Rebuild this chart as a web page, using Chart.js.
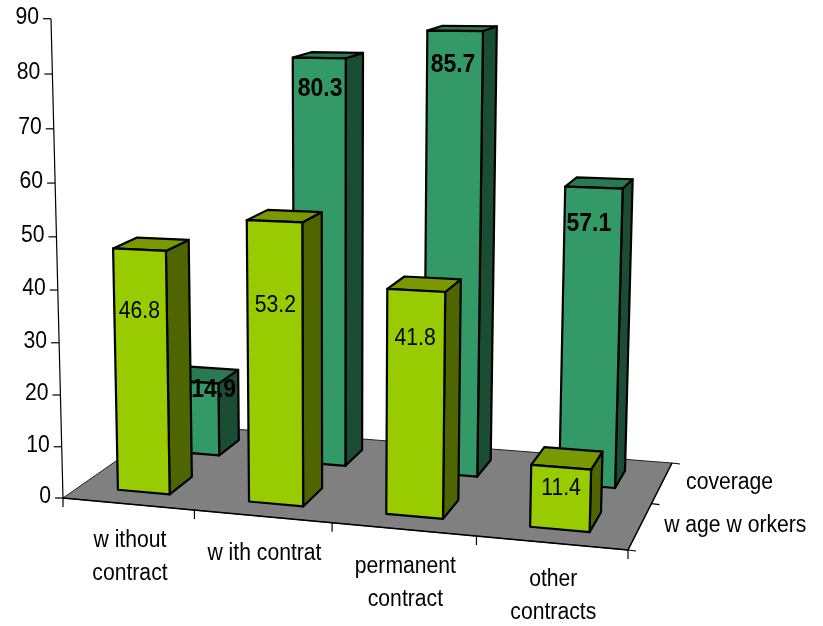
<!DOCTYPE html>
<html>
<head>
<meta charset="utf-8">
<style>
  html, body { margin: 0; padding: 0; background: #fff; }
  canvas { display: block; }
</style>
</head>
<body>
<canvas id="contractChart" width="823" height="626"></canvas>
<script src="https://cdn.jsdelivr.net/npm/chart.js@4/dist/chart.umd.min.js"></script>
<script>
const categories = [["w ithout", "contract"], ["w ith contrat"], ["permanent", "contract"], ["other", "contracts"]];
const seriesNames = ["w age w orkers", "coverage"];
const wageWorkers = [46.8, 53.2, 41.8, 11.4];
const coverage = [14.9, 80.3, 85.7, 57.1];

// floor corners on screen, front left first, then anticlockwise
const FLOOR = [[63, 498], [628, 550], [672, 463], [169, 424]];
const AXIS_TOP = [51, 18.7];
const LEAN = -0.042; // how much the top of the box comes towards the camera
const ROW_CENTRE = [0.25, 0.75];
const ROW_DEPTH = 0.108;
const FONT = "Liberation Sans, Arial, sans-serif";
const TEXT_SQUEEZE = 0.92; // reference text is taller than it is wide
const FACES = [
  { front: "#99cc00", side: "#4f6600", top: "#7a9900" },
  { front: "#339966", side: "#1a4d33", top: "#297a52" }
];
// how far below the bar top the value sits, and sideways nudge
const LABEL_DROP = [[62, 84, 48, 21], [8, 31, 34, 37]];
const LABEL_SHIFT = [[0, 1, -1, 0], [20, 1, -2, -5]];

function make_projection() {
  const [p0, p1, p2, p3] = FLOOR;
  const dx1 = p1[0] - p2[0], dx2 = p3[0] - p2[0], sx = p0[0] - p1[0] + p2[0] - p3[0];
  const dy1 = p1[1] - p2[1], dy2 = p3[1] - p2[1], sy = p0[1] - p1[1] + p2[1] - p3[1];
  const den = dx1 * dy2 - dx2 * dy1;
  const g = (sx * dy2 - dx2 * sy) / den;
  const h = (dx1 * sy - sx * dy1) / den;
  const ax = p1[0] - p0[0] + g * p1[0], bx = p3[0] - p0[0] + h * p3[0];
  const ay = p1[1] - p0[1] + g * p1[1], by = p3[1] - p0[1] + h * p3[1];
  const cx = AXIS_TOP[0] * (1 + LEAN) - p0[0];
  const cy = AXIS_TOP[1] * (1 + LEAN) - p0[1];
  return (u, v, t) => {
    const w = 1 + g * u + h * v + LEAN * t;
    return [(p0[0] + ax * u + bx * v + cx * t) / w, (p0[1] + ay * u + by * v + cy * t) / w];
  };
}
const project = make_projection();

function poly(ctx, points, fill) {
  ctx.beginPath();
  points.forEach((p, i) => (i ? ctx.lineTo(p[0], p[1]) : ctx.moveTo(p[0], p[1])));
  ctx.closePath();
  if (fill) {
    ctx.fillStyle = fill;
    ctx.fill();
  }
  ctx.stroke();
}

function segment(ctx, a, b) {
  ctx.beginPath();
  ctx.moveTo(a[0], a[1]);
  ctx.lineTo(b[0], b[1]);
  ctx.stroke();
}

function put_text(ctx, text, x, y) {
  ctx.save();
  ctx.translate(x, y);
  ctx.scale(TEXT_SQUEEZE, 1);
  ctx.fillText(text, 0, 0);
  ctx.restore();
}

// bar geometry comes from the elements Chart.js laid out, then goes through the box projection
function bar_box(chart, bar, row) {
  const area = chart.chartArea;
  const props = bar.getProps(["x", "y", "base", "width"], true);
  const u0 = (props.x - props.width / 2 - area.left) / area.width;
  const u1 = (props.x + props.width / 2 - area.left) / area.width;
  const v0 = ROW_CENTRE[row] - ROW_DEPTH;
  const v1 = ROW_CENTRE[row] + ROW_DEPTH;
  const t = (props.base - props.y) / area.height;
  return { u0, u1, v0, v1, t };
}

function draw_floor_and_axes(chart) {
  const ctx = chart.ctx;
  const xScale = chart.scales.x;
  const yScale = chart.scales.y;
  const area = chart.chartArea;

  ctx.save();
  ctx.strokeStyle = "#222";
  ctx.lineWidth = 1;
  poly(ctx, [project(0, 0, 0), project(1, 0, 0), project(1, 1, 0), project(0, 1, 0)], "#808080");
  ctx.lineWidth = 1.5;
  ctx.strokeStyle = "#000";
  segment(ctx, project(0, 0, 0), project(1, 0, 0));
  segment(ctx, project(1, 0, 0), project(1, 1, 0));
  ctx.lineWidth = 1.2;
  segment(ctx, project(0, 0, 0), project(0, 0, 1));

  ctx.fillStyle = "#000";
  ctx.font = "23px " + FONT;
  ctx.textBaseline = "middle";

  ctx.textAlign = "right";
  yScale.ticks.forEach(tick => {
    const t = (area.bottom - yScale.getPixelForValue(tick.value)) / area.height;
    const p = project(0, 0, t);
    segment(ctx, p, [p[0] - 8, p[1]]);
    put_text(ctx, tick.label, p[0] - 12, p[1] - 1);
  });

  [0, 0.25, 0.5, 0.75, 1].forEach(u => {
    const p = project(u, 0, 0);
    segment(ctx, p, [p[0], p[1] + 9]);
  });
  [0, 0.5, 1].forEach(v => {
    const p = project(1, v, 0);
    segment(ctx, p, [p[0] + 8, p[1] + 1]);
  });

  ctx.textAlign = "center";
  xScale.ticks.forEach((tick, i) => {
    const u = (xScale.getPixelForTick(i) - area.left) / area.width;
    const p = project(u, 0, 0);
    [].concat(tick.label).forEach((line, n) => {
      put_text(ctx, line, p[0] + 2, p[1] + 37 + n * 33);
    });
  });

  ctx.textAlign = "left";
  chart.data.datasets.forEach((ds, row) => {
    const p = project(1, ROW_CENTRE[row], 0);
    put_text(ctx, ds.label, p[0] + 24, p[1]);
  });
  ctx.restore();
}

const box3d = {
  id: "box3d",
  beforeDatasetsDraw(chart) {
    draw_floor_and_axes(chart);
  },
  beforeDatasetDraw(chart, args) {
    const ctx = chart.ctx;
    const row = args.index;
    ctx.save();
    ctx.strokeStyle = "#000";
    ctx.lineWidth = 2.2;
    ctx.lineJoin = "round";
    args.meta.data.forEach(bar => {
      const b = bar_box(chart, bar, row);
      poly(ctx, [project(b.u1, b.v0, 0), project(b.u1, b.v1, 0), project(b.u1, b.v1, b.t), project(b.u1, b.v0, b.t)], FACES[row].side);
      poly(ctx, [project(b.u0, b.v0, b.t), project(b.u1, b.v0, b.t), project(b.u1, b.v1, b.t), project(b.u0, b.v1, b.t)], FACES[row].top);
      poly(ctx, [project(b.u0, b.v0, 0), project(b.u1, b.v0, 0), project(b.u1, b.v0, b.t), project(b.u0, b.v0, b.t)], FACES[row].front);
    });
    ctx.restore();
    return false;
  },
  afterDatasetsDraw(chart) {
    const ctx = chart.ctx;
    ctx.save();
    ctx.fillStyle = "#000";
    ctx.textAlign = "center";
    ctx.textBaseline = "middle";
    chart.data.datasets.forEach((ds, row) => {
      ctx.font = (row ? "bold 25px " : "23px ") + FONT;
      chart.getDatasetMeta(row).data.forEach((bar, i) => {
        const b = bar_box(chart, bar, row);
        const p = project((b.u0 + b.u1) / 2, b.v0, b.t);
        put_text(ctx, ds.data[i].toFixed(1), p[0] + LABEL_SHIFT[row][i], p[1] + LABEL_DROP[row][i]);
      });
    });
    ctx.restore();
  }
};

new Chart(document.getElementById("contractChart"), {
  type: "bar",
  data: {
    labels: categories,
    datasets: [
      { label: seriesNames[0], data: wageWorkers, backgroundColor: FACES[0].front, borderColor: "#000" },
      { label: seriesNames[1], data: coverage, backgroundColor: FACES[1].front, borderColor: "#000" }
    ]
  },
  options: {
    responsive: false,
    animation: false,
    layout: { padding: 40 },
    datasets: { bar: { grouped: false, barPercentage: 0.4, categoryPercentage: 1 } },
    plugins: { legend: { display: false }, tooltip: { enabled: false } },
    scales: {
      x: { display: false, offset: true },
      y: { display: false, min: 0, max: 90, ticks: { stepSize: 10 } }
    }
  },
  plugins: [box3d]
});
</script>
</body>
</html>
